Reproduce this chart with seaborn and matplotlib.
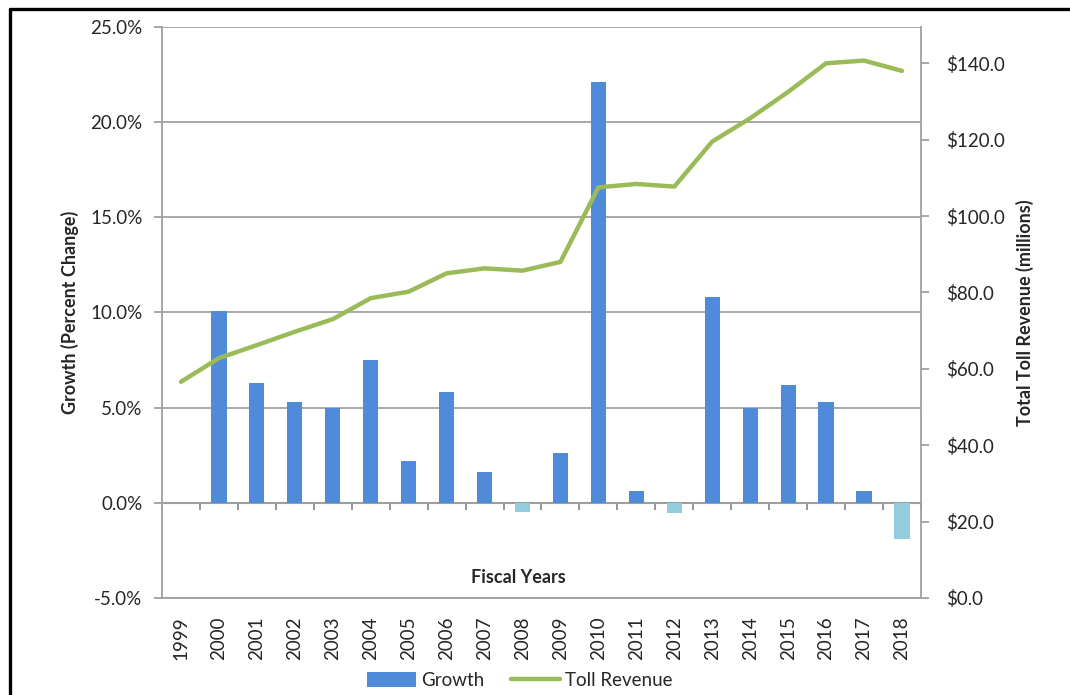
import numpy as np
import pandas as pd
import matplotlib
matplotlib.use("Agg")
import matplotlib.pyplot as plt
from matplotlib.patches import Patch
from matplotlib.lines import Line2D
from matplotlib.ticker import FuncFormatter, FixedLocator
import seaborn as sns

# Fiscal years and series
years = [str(y) for y in range(1999, 2019)]
growth_pct = [np.nan, 10.1, 6.3, 5.3, 5.0, 7.5, 2.2, 5.8, 1.6, -0.5, 2.6,
              22.1, 0.6, -0.55, 10.8, 5.0, 6.2, 5.3, 0.6, -1.9]
toll_revenue = [56.6, 62.8, 66.2, 69.7, 73.0, 78.5, 80.2, 85.0, 86.3, 85.7, 88.0,
                107.5, 108.4, 107.7, 119.5, 125.6, 132.5, 140.0, 140.7, 138.0]

left_ticks = [-5, 0, 5, 10, 15, 20, 25]
right_ticks = [0, 20, 40, 60, 80, 100, 120, 140]

BLUE = "#4F8BD8"
LIGHT_BLUE = "#93CDDD"
GREEN = "#9BBB59"
GRID = "#A0A0A0"
TEXT = "#262626"
FS = 13.5

sns.set_theme(style="white")
plt.rcParams["font.family"] = ["Lato", "DejaVu Sans"]

df = pd.DataFrame({"year": years, "growth": growth_pct, "revenue": toll_revenue})
df["sign"] = np.where(df["growth"] < 0, "neg", "pos")

fig = plt.figure(figsize=(10.70, 6.95), dpi=100)
ax = fig.add_axes([0.1514, 0.1396, 0.7093, 0.8216])

sns.barplot(data=df, x="year", y="growth", hue="sign",
            palette={"pos": BLUE, "neg": LIGHT_BLUE}, saturation=1,
            dodge=False, width=0.4, legend=False, ax=ax, zorder=3,
            linewidth=0)

ax.set_ylim(-5, 25)
ax.set_xlim(-0.5, len(years) - 0.5)
ax.yaxis.set_major_locator(FixedLocator(left_ticks))
ax.yaxis.set_major_formatter(FuncFormatter(lambda v, p: f"{v:.1f}%"))
ax.grid(axis="y", color=GRID, linewidth=1.3, zorder=0)
ax.set_axisbelow(True)
for side in ["left", "right", "bottom", "top"]:
    ax.spines[side].set_color(GRID)
    ax.spines[side].set_linewidth(1.3)
ax.spines["top"].set_visible(False)

ax.tick_params(axis="y", which="major", direction="out", length=6, width=1.3,
               color=GRID, labelsize=FS, labelcolor=TEXT, pad=8, left=True)
ax.tick_params(axis="x", which="major", length=0, labelsize=FS,
               labelcolor=TEXT, pad=13, labelrotation=90)
ax.set_xlabel("")
ax.set_ylabel("Growth (Percent Change)", fontsize=13, fontweight="bold",
              color=TEXT, labelpad=8)

# Category axis crossing at 0% with boundary tick marks
zero_frac = (0 - (-5)) / 30
xsec = ax.secondary_xaxis(zero_frac)
xsec.set_xticks(np.arange(-0.5, len(years), 1.0))
xsec.set_xticklabels([])
xsec.tick_params(direction="out", length=5, width=1.3, color="#8C8C8C")
xsec.spines["bottom"].set_color("#8C8C8C")
xsec.spines["bottom"].set_linewidth(1.5)

ax.text(0.47, 0.035, "Fiscal Years", transform=ax.transAxes, ha="center",
        va="center", fontsize=13, fontweight="bold", color=TEXT)

# Secondary axis: toll revenue line
ax2 = ax.twinx()
sns.lineplot(data=df, x="year", y="revenue", color=GREEN, linewidth=3.2,
             sort=False, ax=ax2, zorder=4)
ax2.set_ylim(0, 149.5)
ax2.yaxis.set_major_locator(FixedLocator(right_ticks))
ax2.yaxis.set_major_formatter(FuncFormatter(lambda v, p: f"${v:.1f}"))
ax2.tick_params(axis="y", direction="out", length=6, width=1.3, color=GRID,
                labelsize=FS, labelcolor=TEXT, pad=12, right=True)
for side in ["left", "right", "bottom", "top"]:
    ax2.spines[side].set_visible(False)
ax2.set_ylabel("Total Toll Revenue (millions)", fontsize=13, fontweight="bold",
               color=TEXT, labelpad=8)
ax2.set_xlabel("")
ax2.grid(False)

handles = [Patch(facecolor=BLUE, edgecolor="none", label="Growth"),
           Line2D([0], [0], color=GREEN, linewidth=3.2, label="Toll Revenue")]
fig.legend(handles=handles, loc="center", bbox_to_anchor=(0.486, 0.021), ncol=2,
           frameon=False, fontsize=FS, handlelength=2.6, handleheight=0.9,
           columnspacing=1.4, handletextpad=0.3, labelcolor=TEXT)

# Outer frame lines
fig.add_artist(Line2D([0.0093, 0.0093], [0, 0.987], color="black", linewidth=2.4,
                      transform=fig.transFigure))
fig.add_artist(Line2D([0.0093, 1.0], [0.987, 0.987], color="black", linewidth=2.4,
                      transform=fig.transFigure))

fig.savefig("out.png", dpi=100)
